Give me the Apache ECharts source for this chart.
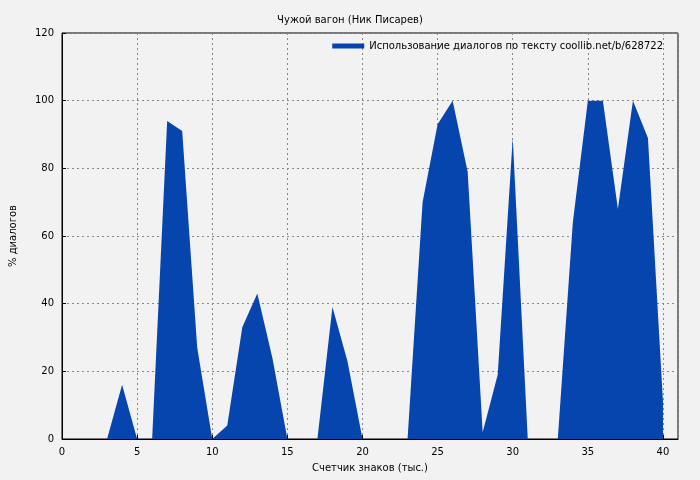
<!DOCTYPE html>
<html><head><meta charset="utf-8">
<script src="https://cdn.jsdelivr.net/npm/echarts@6/dist/echarts.min.js"></script>
<style>html,body{margin:0;padding:0;background:#f2f2f2}#c{width:700px;height:480px}</style>
</head><body><div id="c"></div>
<script>
const xValues = [0,1,2,3,4,5,6,7,8,9,10,11,12,13,14,15,16,17,18,19,20,21,22,23,24,25,26,27,28,29,30,31,32,33,34,35,36,37,38,39,40];
const usage = [0,0,0,0,16,0,0,94,91,27,0,4,33,43,24,0,0,0,39,23,0,0,0,0,70,93,100,79,2,19,89,0,0,0,64,100,100,68,100,89,11];
const titleText = 'Чужой вагон (Ник Писарев)';
const seriesName = 'Использование диалогов по тексту coollib.net/b/628722';
const chart = echarts.init(document.getElementById('c'));
const f = 'DejaVu Sans';
chart.setOption({
  backgroundColor:'#f2f2f2',
  animation:false,
  title:{text:titleText,left:'center',top:10,textStyle:{fontFamily:f,fontSize:10,fontWeight:'normal',color:'#000'}},
  legend:{top:36,right:32,itemWidth:32,itemHeight:5,icon:'rect',textStyle:{fontFamily:f,fontSize:10,color:'#000'},itemGap:6,align:'left',
    data:[{name:seriesName}]},
  grid:{left:61,right:22,top:33,bottom:41,show:true,borderColor:'#000',borderWidth:1,backgroundColor:'transparent'},
  xAxis:{type:'value',min:0,max:41,interval:5,name:'Счетчик знаков (тыс.)',nameLocation:'middle',nameGap:24,
    nameTextStyle:{fontFamily:f,fontSize:10,color:'#000'},
    axisLine:{lineStyle:{color:'#000'}},axisTick:{inside:true,length:4,lineStyle:{color:'#000'}},
    axisLabel:{fontFamily:f,fontSize:10,color:'#000',showMaxLabel:false},
    splitLine:{show:true,lineStyle:{color:'#888',type:[2,3]}}},
  yAxis:{type:'value',min:0,max:120,interval:20,name:'% диалогов',nameLocation:'middle',nameGap:44,
    nameTextStyle:{fontFamily:f,fontSize:10,color:'#000'},
    axisLine:{show:true,lineStyle:{color:'#000'}},axisTick:{show:true,inside:true,length:4,lineStyle:{color:'#000'}},
    axisLabel:{fontFamily:f,fontSize:10,color:'#000'},
    splitLine:{show:true,lineStyle:{color:'#888',type:[2,3]}}},
  series:[{name:seriesName,type:'line',data:xValues.map((x,i)=>[x,usage[i]]),showSymbol:false,symbol:'none',
    itemStyle:{color:'#0645ad'},lineStyle:{width:0,color:'#0645ad'},areaStyle:{color:'#0645ad',opacity:1}}]
});
</script></body></html>
